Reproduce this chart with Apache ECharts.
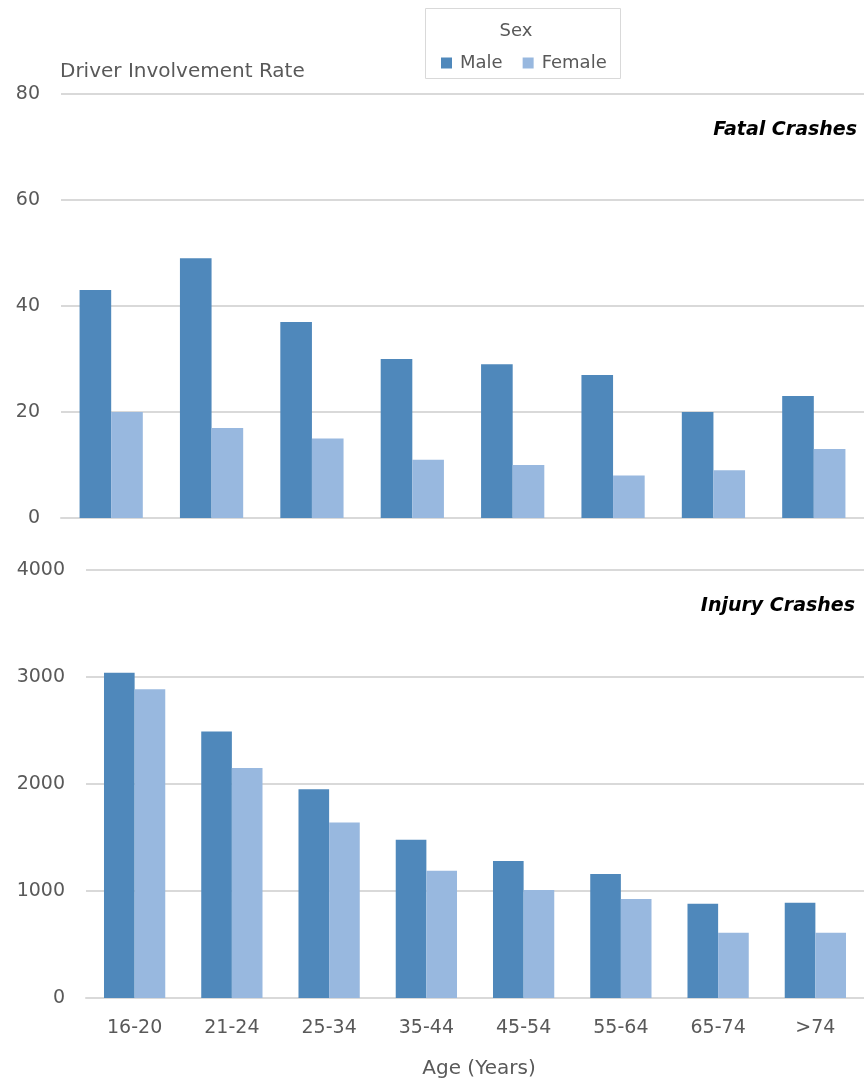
<!DOCTYPE html>
<html>
<head>
<meta charset="utf-8">
<script src="https://cdn.jsdelivr.net/npm/echarts@6/dist/echarts.min.js"></script>
<style>
  html, body { margin: 0; padding: 0; background: #fff; }
  #chart { width: 864px; height: 1083px; }
</style>
</head>
<body>
<div id="chart"></div>
<script>
var ages = ['16-20', '21-24', '25-34', '35-44', '45-54', '55-64', '65-74', '>74'];
var fatalMale = [43, 49, 37, 30, 29, 27, 20, 23];
var fatalFemale = [20, 17, 15, 11, 10, 8, 9, 13];
var injuryMale = [3040, 2490, 1950, 1480, 1280, 1160, 880, 890];
var injuryFemale = [2885, 2150, 1640, 1190, 1010, 925, 610, 610];

var maleColor = '#4f88bb';
var femaleColor = '#98b8df';
var textColor = '#595959';
var gridColor = '#d9d9d9';
var font = "'DejaVu Sans', sans-serif";

var chartElement = document.getElementById('chart');
var chart = echarts.init(chartElement, null, { renderer: 'canvas' });

function yAxis(idx, max, interval) {
    return {
        type: 'value',
        gridIndex: idx,
        min: 0,
        max: max,
        interval: interval,
        axisLine: { show: false },
        axisTick: { show: false },
        axisLabel: {
            color: textColor, fontSize: 19, fontFamily: font, margin: 21,
            formatter: function(v) { return String(v); }
        },
        splitLine: { lineStyle: { color: gridColor, width: 2 } }
    };
}

function xAxis(idx, showLabels) {
    return {
        type: 'category',
        gridIndex: idx,
        data: ages,
        axisLine: { show: true, lineStyle: { color: gridColor, width: 2 } },
        axisTick: { show: false },
        axisLabel: { show: showLabels, color: textColor, fontSize: 19, fontFamily: font, margin: 21 }
    };
}

var option = {
    animation: false,
    textStyle: { fontFamily: font },
    title: [
        { text: 'Sex', left: 516, top: 22, padding: 0, textAlign: 'center',
          textStyle: { color: textColor, fontSize: 18, fontWeight: 'normal', fontFamily: font } },
        { text: 'Driver Involvement Rate', left: 60, top: 62, padding: 0,
          textStyle: { color: textColor, fontSize: 20, fontWeight: 'normal', fontFamily: font } },
        { text: 'Fatal Crashes', right: 7, top: 121, padding: 0,
          textStyle: { color: '#000', fontSize: 19, fontWeight: 'bold', fontStyle: 'italic', fontFamily: font } },
        { text: 'Injury Crashes', right: 9, top: 597, padding: 0,
          textStyle: { color: '#000', fontSize: 19, fontWeight: 'bold', fontStyle: 'italic', fontFamily: font } },
        { text: 'Age (Years)', left: 479, top: 1059, padding: 0, textAlign: 'center',
          textStyle: { color: textColor, fontSize: 20, fontWeight: 'normal', fontFamily: font } }
    ],
    graphic: [
        { type: 'rect', shape: { x: 425.5, y: 8.5, width: 195, height: 70 },
          style: { fill: 'none', stroke: gridColor, lineWidth: 1 } }
    ],
    legend: {
        left: 436,
        top: 49,
        itemWidth: 11,
        itemHeight: 11,
        itemGap: 20,
        icon: 'rect',
        textStyle: { color: textColor, fontSize: 18, fontFamily: font, padding: [0, 0, 0, 3] },
        data: ['Male', 'Female']
    },
    grid: [
        { left: 61, top: 94, width: 810, height: 424 },
        { left: 86, top: 570, width: 781, height: 428 }
    ],
    xAxis: [xAxis(0, false), xAxis(1, true)],
    yAxis: [yAxis(0, 80, 20), yAxis(1, 4000, 1000)],
    series: [
        { name: 'Male', type: 'bar', xAxisIndex: 0, yAxisIndex: 0, data: fatalMale,
          itemStyle: { color: maleColor }, barGap: '0%', barCategoryGap: '37%' },
        { name: 'Female', type: 'bar', xAxisIndex: 0, yAxisIndex: 0, data: fatalFemale,
          itemStyle: { color: femaleColor }, barGap: '0%', barCategoryGap: '37%' },
        { name: 'Male', type: 'bar', xAxisIndex: 1, yAxisIndex: 1, data: injuryMale,
          itemStyle: { color: maleColor }, barGap: '0%', barCategoryGap: '37%' },
        { name: 'Female', type: 'bar', xAxisIndex: 1, yAxisIndex: 1, data: injuryFemale,
          itemStyle: { color: femaleColor }, barGap: '0%', barCategoryGap: '37%' }
    ]
};

chart.setOption(option);

window.onresize = function() {
    chart.resize();
};
</script>
</body>
</html>
